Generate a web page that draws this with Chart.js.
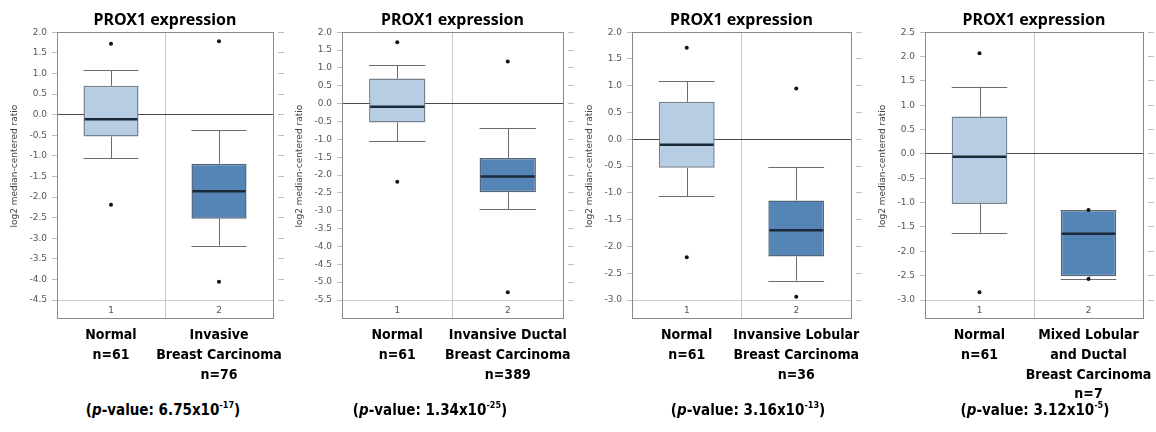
<!DOCTYPE html>
<html>
<head>
<meta charset="utf-8">
<script src="https://cdn.jsdelivr.net/npm/chart.js@4.4.1/dist/chart.umd.min.js"></script>
<style>
  body { margin: 0; background: #fff; width: 1156px; height: 432px; position: relative; overflow: hidden; }
  canvas { position: absolute; top: 0; }
  .pval { position: absolute; top: 400px; transform: translateX(-50%); white-space: nowrap;
          font: bold 15px 'DejaVu Sans Condensed', sans-serif; color: #000; }
  .pval sup { font-size: 9px; vertical-align: 7px; }
</style>
</head>
<body>
<script>
// box stats per panel: [lower whisker, Q1, median, Q3, upper whisker]
const normalBox = [
  [-1.06, -0.53, -0.11, 0.70, 1.08],
  [-1.05, -0.53, -0.09, 0.70, 1.07],
  [-1.06, -0.53, -0.10, 0.70, 1.08],
  [-1.62, -1.03, -0.06, 0.77, 1.38]
];
const tumourBox = [
  [-3.18, -2.53, -1.86, -1.19, -0.38],
  [-2.95, -2.48, -2.04, -1.52, -0.68],
  [-2.64, -2.19, -1.70, -1.14, -0.52],
  [-2.57, -2.51, -1.64, -1.15, -1.15]
];
const normalOutliers = [[1.72, -2.19], [1.72, -2.19], [1.71, -2.20], [2.07, -2.84]];
const tumourOutliers = [[1.78, -4.06], [1.18, -5.28], [0.95, -2.94], [-1.15, -2.57]];

const groupTicks = ['1', '2'];
const normalName = ['Normal', 'n=61'];
const tumourNames = [
  ['Invasive', 'Breast Carcinoma', 'n=76'],
  ['Invansive Ductal', 'Breast Carcinoma', 'n=389'],
  ['Invansive Lobular', 'Breast Carcinoma', 'n=36'],
  ['Mixed Lobular', 'and Ductal', 'Breast Carcinoma', 'n=7']
];
const yMin = [-4.5, -5.5, -3.0, -3.0];
const yMax = [2.0, 2.0, 2.0, 2.5];
const pMantissa = ['6.75', '1.34', '3.16', '3.12'];
const pExponent = ['-17', '-25', '-13', '-5'];

// where each framed plot sits on the page
const frames = [
  { left: 57, right: 273, pval: 163 },
  { left: 342, right: 563, pval: 430 },
  { left: 632, right: 851, pval: 748 },
  { left: 925, right: 1143, pval: 1035 }
];

const AXIS_W = 57;
const RIGHT_W = 17;

const framePlugin = {
  id: 'frame',
  beforeDatasetsDraw(chart) {
    const { ctx, chartArea: a, scales } = chart;
    ctx.save();
    ctx.strokeStyle = '#8a8a8a';
    ctx.lineWidth = 1;
    ctx.strokeRect(Math.round(a.left) + 0.5, Math.round(a.top) + 0.5,
      Math.round(a.right - a.left), Math.round(scales.x.bottom - a.top));
    ctx.restore();
  }
};

const whiskerPlugin = {
  id: 'whiskers',
  afterDatasetDraw(chart, args, opts) {
    if (args.index !== 0) return;
    const { ctx } = chart;
    const y = chart.scales.y;
    args.meta.data.forEach((bar, i) => {
      const [lo, q1, med, q3, hi] = opts.stats[i];
      const { x, width } = bar.getProps(['x', 'width'], true);
      const cx = Math.round(x) + 0.5;
      const l = x - width / 2, r = x + width / 2;
      ctx.save();
      ctx.strokeStyle = '#6b6b6b';
      ctx.lineWidth = 1;
      ctx.beginPath();
      ctx.moveTo(cx, y.getPixelForValue(q3));
      ctx.lineTo(cx, y.getPixelForValue(hi));
      ctx.moveTo(cx, y.getPixelForValue(q1));
      ctx.lineTo(cx, y.getPixelForValue(lo));
      [hi, lo].forEach(v => {
        const py = Math.round(y.getPixelForValue(v)) + 0.5;
        ctx.moveTo(l, py);
        ctx.lineTo(r, py);
      });
      ctx.stroke();
      ctx.strokeStyle = '#1c2a38';
      ctx.lineWidth = 2.5;
      ctx.beginPath();
      const my = y.getPixelForValue(med);
      ctx.moveTo(l + 1, my);
      ctx.lineTo(r - 1, my);
      ctx.stroke();
      ctx.restore();
    });
  }
};

// keep wide category names from squeezing the plot
const noSidePadding = s => { s.paddingLeft = 0; s.paddingRight = 0; };

frames.forEach((f, i) => {
  const canvas = document.createElement('canvas');
  const w = AXIS_W + (f.right - f.left) + RIGHT_W;
  canvas.width = w;
  canvas.height = 400;
  canvas.style.left = (f.left - AXIS_W) + 'px';
  canvas.style.width = w + 'px';
  canvas.style.height = '400px';
  document.body.appendChild(canvas);

  const pv = document.createElement('div');
  pv.className = 'pval';
  pv.style.left = f.pval + 'px';
  pv.innerHTML = '(<i>p</i>-value: ' + pMantissa[i] + 'x10<sup>' + pExponent[i] + '</sup>)';
  document.body.appendChild(pv);

  const points = normalOutliers[i].map(v => ({ x: '1', y: v }))
    .concat(tumourOutliers[i].map(v => ({ x: '2', y: v })));

  new Chart(canvas, {
    type: 'bar',
    data: {
      labels: groupTicks,
      datasets: [
        {
          data: [[normalBox[i][1], normalBox[i][3]], [tumourBox[i][1], tumourBox[i][3]]],
          backgroundColor: ['#b7cde4', '#5585b7'],
          borderColor: ['#75818d', '#56677a'],
          borderWidth: 1.5,
          borderSkipped: false,
          barPercentage: 0.51,
          categoryPercentage: 1,
          order: 1
        },
        {
          type: 'line',
          data: points,
          showLine: false,
          pointRadius: 2,
          pointBackgroundColor: '#111',
          pointBorderWidth: 0,
          order: 0
        }
      ]
    },
    options: {
      responsive: false,
      animation: false,
      layout: { padding: { left: 0, right: 5, top: 0, bottom: 0 } },
      plugins: {
        legend: { display: false },
        tooltip: { enabled: false },
        title: {
          display: true,
          fullSize: false,
          text: 'PROX1 expression',
          color: '#000',
          font: { family: "'Noto Sans', sans-serif", size: 16, weight: 'bold' },
          padding: { top: 11, bottom: 2 }
        },
        whiskers: { stats: [normalBox[i], tumourBox[i]] }
      },
      scales: {
        x: {
          position: 'bottom',
          offset: true,
          grid: { offset: true, color: '#c9c9c9', tickLength: 18, drawTicks: true },
          border: { display: true, color: '#c9c9c9' },
          ticks: { padding: -13, color: '#555', font: { family: 'DejaVu Sans', size: 9 } },
          afterFit: s => { s.height = 18; noSidePadding(s); }
        },
        x2: {
          type: 'category',
          position: 'bottom',
          labels: [normalName, tumourNames[i]],
          offset: true,
          grid: { display: false, drawTicks: false },
          border: { display: false },
          ticks: {
            padding: 8, color: '#000', maxRotation: 0, minRotation: 0, autoSkip: false,
            font: { family: "'DejaVu Sans Condensed', sans-serif", size: 14, weight: 'bold', lineHeight: 1.4 }
          },
          afterFit: s => { s.height = 82; noSidePadding(s); }
        },
        y: {
          min: yMin[i],
          max: yMax[i],
          grid: {
            color: c => (c.tick && c.tick.value === 0 ? '#4a4a4a' : 'rgba(0,0,0,0)'),
            tickColor: '#bdbdbd',
            tickLength: 5
          },
          border: { display: false },
          ticks: {
            stepSize: 0.5,
            includeBounds: false,
            padding: 5,
            color: '#555',
            font: { family: 'DejaVu Sans', size: 9 },
            callback: v => v.toFixed(1)
          },
          title: {
            display: true,
            text: 'log2 median-centered ratio',
            color: '#444',
            font: { family: 'DejaVu Sans', size: 9 },
            padding: { top: 9, bottom: 0 }
          },
          afterFit: s => { s.width = AXIS_W; }
        },
        yR: {
          position: 'right',
          min: yMin[i],
          max: yMax[i],
          grid: {
            drawOnChartArea: false,
            tickColor: '#bdbdbd',
            tickLength: 11,
            tickBorderDash: [0, 5, 6, 40]
          },
          border: { display: false },
          ticks: { display: false, stepSize: 0.5, includeBounds: false },
          afterFit: s => { s.width = 12; }
        }
      }
    },
    plugins: [framePlugin, whiskerPlugin]
  });
});
</script>
</body>
</html>
